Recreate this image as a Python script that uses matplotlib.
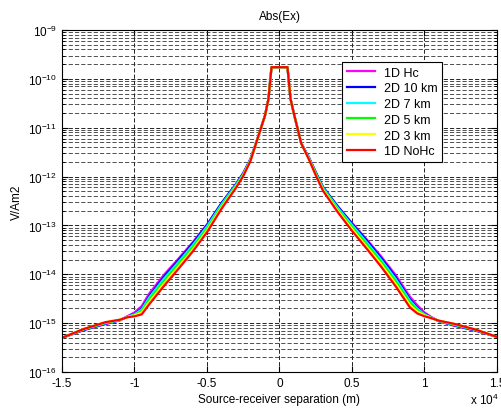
import numpy as np
import matplotlib.pyplot as plt
from matplotlib.ticker import LogLocator, FixedLocator, NullFormatter

plt.rcParams['font.family'] = ['Liberation Sans', 'DejaVu Sans']
plt.rcParams['mathtext.fontset'] = 'custom'
plt.rcParams['mathtext.rm'] = 'Liberation Sans'
plt.rcParams['mathtext.default'] = 'regular'

# offsets (m)
offset = [-15000, -13500, -12000, -11000, -10500, -10000, -9500, -9000, -8000, -7000,
          -6000, -5000, -4000, -3000, -2500, -2000, -1500, -1000, -760, -550,
          0, 550, 760, 1000, 1500, 2000, 2500, 3000, 4000, 5000,
          6000, 7000, 8000, 9000, 9500, 10000, 10500, 11000, 12000, 13500, 15000]

# log10 |Ex| (V/Am2)
log_1d_hc = [-15.30, -15.14, -15.02, -14.94, -14.86, -14.78, -14.65, -14.40, -14.02, -13.69,
             -13.35, -12.98, -12.55, -12.16, -11.93, -11.64, -11.21, -10.75, -10.41, -9.76,
             -9.76, -9.76, -10.41, -10.72, -11.32, -11.59, -11.91, -12.22, -12.61, -12.95,
             -13.28, -13.63, -14.01, -14.46, -14.63, -14.78, -14.88, -14.96, -15.05, -15.15, -15.28]
log_2d_10 = [-15.30, -15.14, -15.01, -14.94, -14.87, -14.81, -14.70, -14.45, -14.06, -13.72,
             -13.37, -12.99, -12.54, -12.15, -11.93, -11.64, -11.21, -10.75, -10.41, -9.76,
             -9.76, -9.76, -10.41, -10.72, -11.32, -11.59, -11.91, -12.21, -12.60, -12.96,
             -13.30, -13.66, -14.05, -14.51, -14.68, -14.81, -14.89, -14.96, -15.04, -15.15, -15.28]
log_2d_7 = [-15.30, -15.13, -15.00, -14.94, -14.87, -14.82, -14.72, -14.48, -14.10, -13.76,
            -13.41, -13.02, -12.57, -12.17, -11.95, -11.65, -11.21, -10.75, -10.41, -9.76,
            -9.76, -9.76, -10.41, -10.72, -11.32, -11.60, -11.93, -12.23, -12.63, -12.99,
            -13.34, -13.70, -14.09, -14.54, -14.70, -14.82, -14.89, -14.96, -15.03, -15.14, -15.28]
log_2d_5 = [-15.30, -15.12, -14.99, -14.93, -14.88, -14.83, -14.75, -14.52, -14.15, -13.80,
            -13.45, -13.06, -12.60, -12.19, -11.96, -11.66, -11.21, -10.75, -10.41, -9.76,
            -9.76, -9.76, -10.41, -10.72, -11.32, -11.61, -11.94, -12.25, -12.66, -13.03,
            -13.38, -13.74, -14.14, -14.58, -14.73, -14.83, -14.90, -14.95, -15.02, -15.13, -15.28]
log_2d_3 = [-15.30, -15.12, -14.98, -14.93, -14.88, -14.84, -14.78, -14.57, -14.20, -13.85,
            -13.50, -13.10, -12.63, -12.21, -11.98, -11.67, -11.21, -10.75, -10.41, -9.76,
            -9.76, -9.76, -10.41, -10.72, -11.32, -11.62, -11.96, -12.27, -12.69, -13.07,
            -13.43, -13.79, -14.19, -14.63, -14.76, -14.84, -14.90, -14.95, -15.01, -15.13, -15.28]
log_1d_nohc = [-15.30, -15.12, -14.98, -14.93, -14.88, -14.86, -14.82, -14.62, -14.25, -13.90,
               -13.54, -13.14, -12.66, -12.23, -11.99, -11.68, -11.21, -10.75, -10.41, -9.76,
               -9.76, -9.76, -10.41, -10.72, -11.32, -11.63, -11.97, -12.29, -12.72, -13.11,
               -13.47, -13.84, -14.24, -14.68, -14.80, -14.86, -14.90, -14.95, -15.01, -15.13, -15.28]

labels = ['1D Hc', '2D 10 km', '2D 7 km', '2D 5 km', '2D 3 km', '1D NoHc']
colors = ['#ff00ff', '#0000ff', '#00ffff', '#00ff00', '#ffff00', '#ff0000']
series = [log_1d_hc, log_2d_10, log_2d_7, log_2d_5, log_2d_3, log_1d_nohc]

xticks = [-15000, -10000, -5000, 0, 5000, 10000, 15000]
xticklabels = ['-1.5', '-1', '-0.5', '0', '0.5', '1', '1.5']

fig = plt.figure(figsize=(5.02, 4.14), dpi=100)
ax = fig.add_axes([0.1235, 0.099, 0.8665, 0.826])

x = np.array(offset)
for lab, col, s in zip(labels, colors, series):
    ax.semilogy(x, 10.0 ** np.array(s), color=col, lw=1.6, label=lab)

ax.set_xlim(-15000, 15000)
ax.set_ylim(1e-16, 1e-9)
ax.xaxis.set_major_locator(FixedLocator(xticks))
ax.set_xticklabels(xticklabels)
ax.yaxis.set_major_locator(LogLocator(base=10, numticks=20))
ax.yaxis.set_minor_locator(LogLocator(base=10, subs=np.arange(2, 10), numticks=20))
ax.yaxis.set_minor_formatter(NullFormatter())

# dashed grid on decades, sub-decades and x ticks
ax.grid(True, which='major', color='k', ls=(0, (5, 2.5)), lw=0.6)
ax.grid(True, which='minor', axis='y', color='#333333', ls=(0, (5, 2.5)), lw=0.6)
ax.tick_params(which='both', direction='in', top=True, right=True, labelsize=8.5)
ax.tick_params(which='major', length=4)
ax.tick_params(which='minor', length=2)
for sp in ax.spines.values():
    sp.set_linewidth(0.8)

ax.set_title('Abs(Ex)', fontsize=8.5, pad=8)
ax.set_xlabel('Source-receiver separation (m)', fontsize=8.5, labelpad=3)
ax.set_ylabel('V/Am2', fontsize=8.5, labelpad=4)
ax.text(1.005, -0.058, r'x $10^{4}$', transform=ax.transAxes, ha='right', va='top', fontsize=8.5)

leg = ax.legend(loc='upper left', bbox_to_anchor=(0.644, 0.906), fontsize=9,
                fancybox=False, framealpha=1, edgecolor='k', handlelength=2.3,
                borderpad=0.35, labelspacing=0.3, handletextpad=0.7, borderaxespad=0)
leg.get_frame().set_linewidth(0.8)

fig.savefig('out.png', dpi=100)
